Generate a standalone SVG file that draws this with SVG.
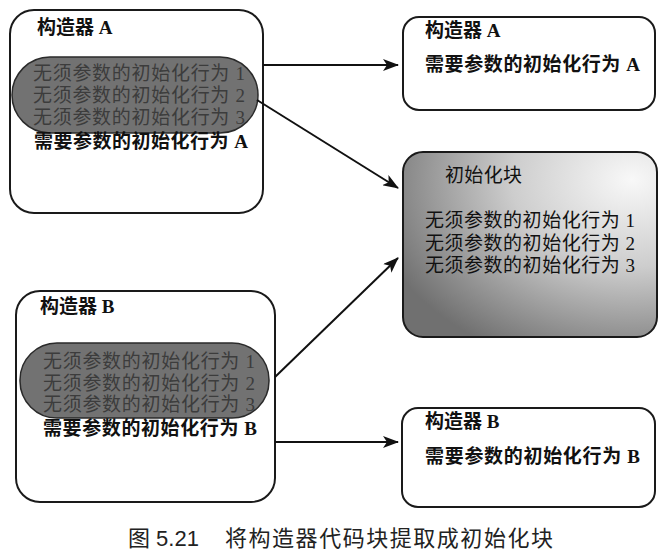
<svg xmlns="http://www.w3.org/2000/svg" width="667" height="557" viewBox="0 0 667 557">
<style>
.box{fill:#fff;stroke:#1a1a1a;stroke-width:2}
.pill{fill:#727272;stroke:#2a2a2a;stroke-width:1.5}
.t{font-family:"Liberation Serif","Noto Sans CJK SC",serif;font-size:19px;fill:#111}
.b{font-weight:bold}
.g{fill:#3c3c3c}
.cap{font-family:"Liberation Sans","Noto Sans CJK SC",sans-serif;font-size:22px;fill:#222}
.ln{stroke:#111;stroke-width:2;fill:none;marker-end:url(#ah)}
</style>
<defs>
<marker id="ah" markerWidth="16" markerHeight="12" refX="15" refY="6" orient="auto" markerUnits="userSpaceOnUse">
<path d="M0,0 L16,6 L0,12 L4,6 z" fill="#111"/>
</marker>
<radialGradient id="grad" cx="0.9" cy="0.15" r="1.05">
<stop offset="0" stop-color="#f8f8f8"/>
<stop offset="0.45" stop-color="#cdcdcd"/>
<stop offset="1" stop-color="#707070"/>
</radialGradient>
</defs>
<rect width="667" height="557" fill="#fff"/>

<g id="ctorA">
<rect class="box" x="10" y="10" width="253" height="203" rx="24"/>
<text class="t b" x="37" y="34">构造器 A</text>
<rect class="pill" x="12" y="57" width="246" height="76" rx="38"/>
<text class="t g" x="33" y="80" textLength="212">无须参数的初始化行为 1</text>
<text class="t g" x="33" y="102" textLength="212">无须参数的初始化行为 2</text>
<text class="t g" x="33" y="124" textLength="212">无须参数的初始化行为 3</text>
<text class="t b" x="34" y="148" textLength="214">需要参数的初始化行为 A</text>
</g>

<g id="ctorB">
<rect class="box" x="16" y="291" width="259" height="211" rx="24"/>
<text class="t b" x="40" y="313">构造器 B</text>
<rect class="pill" x="20" y="343" width="249" height="75" rx="37"/>
<text class="t g" x="43" y="368" textLength="212">无须参数的初始化行为 1</text>
<text class="t g" x="43" y="390" textLength="212">无须参数的初始化行为 2</text>
<text class="t g" x="43" y="411" textLength="212">无须参数的初始化行为 3</text>
<text class="t b" x="43" y="435" textLength="214">需要参数的初始化行为 B</text>
</g>

<g id="ctorA2">
<rect class="box" x="403" y="17" width="252" height="93" rx="16"/>
<text class="t b" x="425" y="37">构造器 A</text>
<text class="t b" x="425" y="71" textLength="215">需要参数的初始化行为 A</text>
</g>

<g id="initBlock">
<rect x="403" y="152" width="254" height="185" rx="20" fill="url(#grad)" stroke="#1a1a1a" stroke-width="2"/>
<text class="t" x="445" y="182" textLength="77">初始化块</text>
<text class="t" x="425" y="227" textLength="210">无须参数的初始化行为 1</text>
<text class="t" x="425" y="250" textLength="210">无须参数的初始化行为 2</text>
<text class="t" x="425" y="272" textLength="210">无须参数的初始化行为 3</text>
</g>

<g id="ctorB2">
<rect class="box" x="402" y="408" width="253" height="99" rx="16"/>
<text class="t b" x="425" y="428">构造器 B</text>
<text class="t b" x="425" y="463" textLength="215">需要参数的初始化行为 B</text>
</g>

<g id="connectors">
<line class="ln" x1="263" y1="65" x2="398" y2="65"/>
<line class="ln" x1="257" y1="100" x2="398" y2="188"/>
<line class="ln" x1="275" y1="377" x2="398" y2="258"/>
<line class="ln" x1="275" y1="442" x2="398" y2="442"/>
</g>

<g id="caption">
<text class="cap" x="128" y="546">图 5.21</text>
<text class="cap" x="225" y="546" textLength="328">将构造器代码块提取成初始化块</text>
</g>
</svg>
